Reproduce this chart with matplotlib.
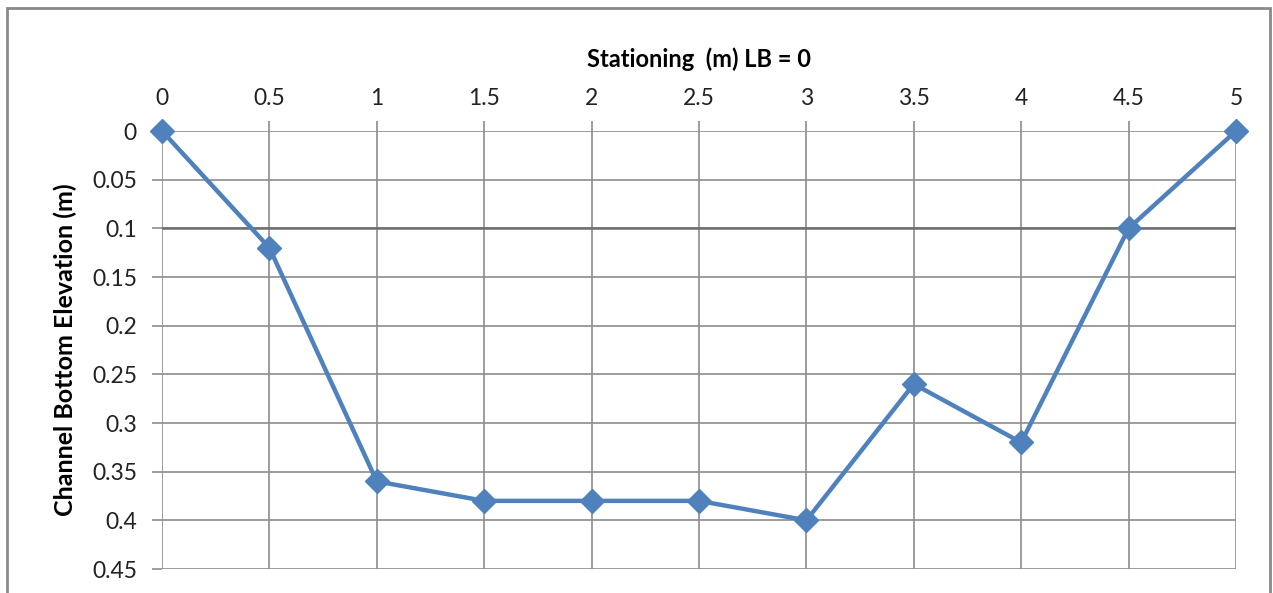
import matplotlib.pyplot as plt
from matplotlib.patches import Rectangle

# stationing and channel bottom elevation
stationing = [0, 0.5, 1, 1.5, 2, 2.5, 3, 3.5, 4, 4.5, 5]
elevation = [0, 0.12, 0.36, 0.38, 0.38, 0.38, 0.40, 0.26, 0.32, 0.10, 0]
x_ticks = [0, 0.5, 1, 1.5, 2, 2.5, 3, 3.5, 4, 4.5, 5]
x_tick_labels = ['0', '0.5', '1', '1.5', '2', '2.5', '3', '3.5', '4', '4.5', '5']
y_ticks = [0, 0.05, 0.1, 0.15, 0.2, 0.25, 0.3, 0.35, 0.4, 0.45]
y_tick_labels = ['0', '0.05', '0.1', '0.15', '0.2', '0.25', '0.3', '0.35', '0.4', '0.45']

plt.rcParams['font.family'] = ['Lato', 'DejaVu Sans']

fig = plt.figure(figsize=(12.73, 5.93), dpi=100)
ax = fig.add_axes([162 / 1273, 1 - 569 / 593, (1236 - 162) / 1273, (569 - 131) / 593])

grid_color = '#8c8c8c'
ax.plot(stationing, elevation, color='#4f81bd', linewidth=3.2, marker='D',
        markersize=12.5, clip_on=False, zorder=3)

ax.set_xlim(0, 5)
ax.set_ylim(0.45, 0)
ax.xaxis.tick_top()
ax.xaxis.set_label_position('top')
ax.set_xticks(x_ticks)
ax.set_xticklabels(x_tick_labels)
ax.set_yticks(y_ticks)
ax.set_yticklabels(y_tick_labels)
ax.tick_params(axis='both', labelsize=16.5, colors=grid_color, labelcolor='#222222',
               length=7, width=1.2)
ax.tick_params(axis='x', pad=9)
ax.tick_params(axis='y', pad=11)

ax.grid(True, color=grid_color, linewidth=1.2)
ax.axhline(0.1, color='#6e6e6e', linewidth=1.8, zorder=2)
for side in ['top', 'right', 'bottom', 'left']:
    ax.spines[side].set_visible(False)

ax.set_xlabel('Stationing  (m) LB = 0', fontsize=17, fontweight='bold', labelpad=15)
ax.set_ylabel('Channel Bottom Elevation (m)', fontsize=18, fontweight='bold', labelpad=11)

# outer chart frame
fig.patches.append(Rectangle((7 / 1273, -0.02), (1270 - 7) / 1273, 1.02 - 8 / 593,
                             transform=fig.transFigure, fill=False,
                             edgecolor='#8a8a8a', linewidth=2))

fig.savefig('out.png', dpi=100)
